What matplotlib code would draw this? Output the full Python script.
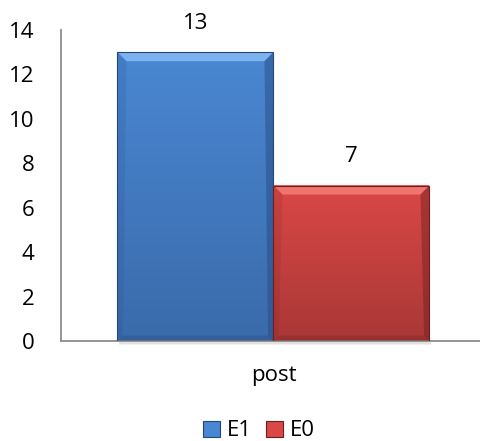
import numpy as np
import matplotlib.pyplot as plt
from matplotlib.patches import Polygon, Rectangle
from matplotlib.colors import LinearSegmentedColormap

categories = ["post"]
series = ["E1", "E0"]
values = [13, 7]
upper = ["#4a87d2", "#d94846"]   # face colour near the top
lower = ["#3a6bab", "#a93836"]   # face colour near the bottom
bevel = ["#7cb2ee", "#f07470"]
edge = ["#24477a", "#6e1f1e"]

plt.rcParams["font.family"] = ["Open Sans", "DejaVu Sans"]

fig = plt.figure(figsize=(4.8, 4.41), dpi=100)
ax = fig.add_axes([61 / 480, 1 - 341 / 441, 419 / 480, 311 / 441])

xs = np.arange(len(series), dtype=float)
bars = ax.bar(xs, values, width=1.0, color=upper, zorder=2, label=series)
ax.set_xlim(-0.862, 1.824)
ax.set_ylim(0, 14)
ax.set_yticks(np.arange(0, 15, 2))
ax.tick_params(axis="y", length=0, labelsize=16, pad=19)
ax.set_xticks([0.5])
ax.set_xticklabels(categories, fontsize=16)
ax.tick_params(axis="x", length=0, pad=17)
for s in ["top", "right"]:
    ax.spines[s].set_visible(False)
for s in ["left", "bottom"]:
    ax.spines[s].set_color("#8c8c8c")
    ax.spines[s].set_linewidth(1.3)

# bevel size in data units (about 8 px)
px_x = (ax.get_xlim()[1] - ax.get_xlim()[0]) / 419
px_y = 14 / 311
bx, by = 9 * px_x, 9 * px_y

for b, top, bot, bev, ed, v in zip(bars, upper, lower, bevel, edge, values):
    x0, w, h = b.get_x(), b.get_width(), b.get_height()
    x1 = x0 + w
    b.set_visible(False)
    # soft shadow below the bar
    for k in range(4):
        ax.add_patch(Rectangle((x0 + px_x * 2, -px_y * (k + 1)), w, px_y * 2,
                               color="black", alpha=0.06, lw=0, zorder=1,
                               clip_on=False))
    cmap = LinearSegmentedColormap.from_list("g", [bot, top])
    grad = np.linspace(0, 1, 64).reshape(-1, 1)
    ax.imshow(grad, extent=(x0, x1, 0, h), aspect="auto", cmap=cmap,
              vmin=0, vmax=1, zorder=2, origin="lower")
    # bevel edges
    ax.add_patch(Polygon([(x0, h), (x1, h), (x1 - bx, h - by), (x0 + bx, h - by)],
                         color=bev, lw=0, zorder=3))
    ax.add_patch(Polygon([(x1, h), (x1, 0), (x1 - bx * 0.6, by * 0.6), (x1 - bx, h - by)],
                         color=ed, alpha=0.45, lw=0, zorder=3))
    ax.add_patch(Polygon([(x0, h), (x0, 0), (x0 + bx * 0.6, by * 0.6), (x0 + bx, h - by)],
                         color=ed, alpha=0.15, lw=0, zorder=3))
    ax.add_patch(Polygon([(x0, 0), (x1, 0), (x1 - bx * 0.6, by * 0.6), (x0 + bx * 0.6, by * 0.6)],
                         color=ed, alpha=0.3, lw=0, zorder=3))
    ax.add_patch(Rectangle((x0, 0), w, h, fill=False, ec=ed, lw=0.8, zorder=4))
    ax.annotate(str(v), (x0 + w / 2, h), xytext=(0, 29), textcoords="offset pixels",
                ha="center", va="center", fontsize=16)

handles = [Rectangle((0, 0), 1, 1, fc=t, ec=e, lw=0.8) for t, e in zip(upper, edge)]
fig.legend(handles, series, loc="center", bbox_to_anchor=(259 / 480, 1 - 431 / 441),
           ncol=2, frameon=False, fontsize=16, handlelength=0.75, handleheight=0.75,
           handletextpad=0.3, columnspacing=0.65, borderpad=0, borderaxespad=0)

fig.savefig("out.png", dpi=100)
